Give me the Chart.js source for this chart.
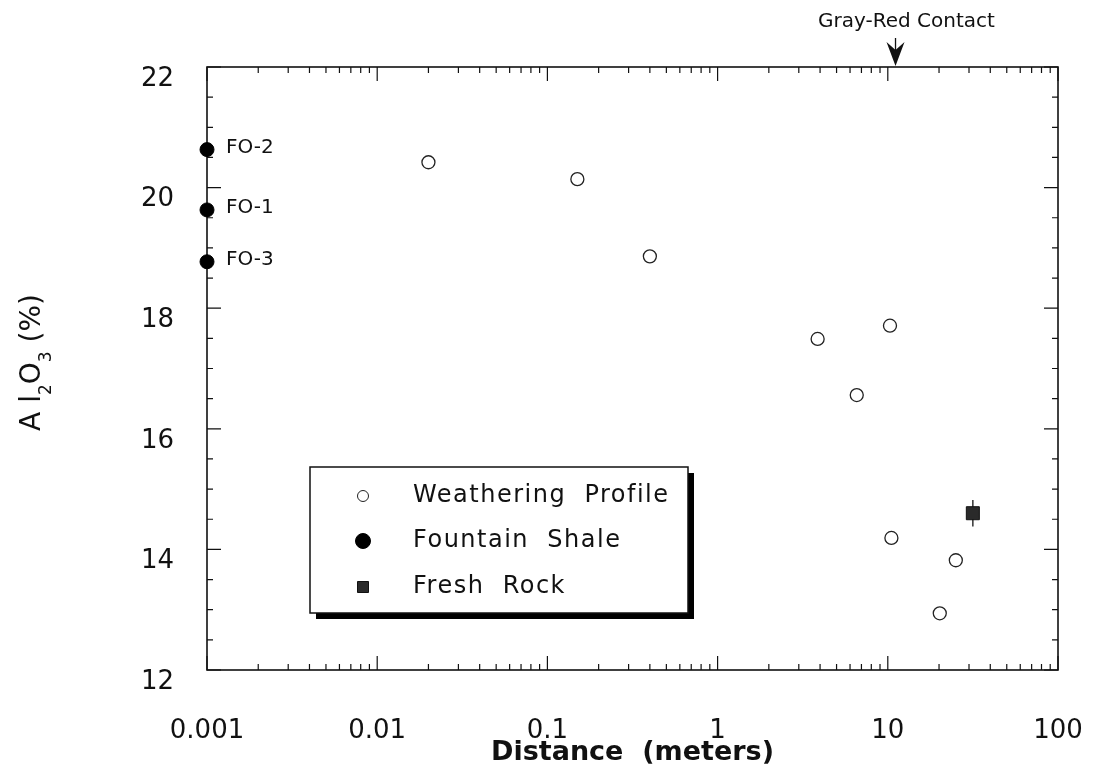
<!DOCTYPE html>
<html>
<head>
<meta charset="utf-8">
<script src="https://cdn.jsdelivr.net/npm/chart.js@4.4.1/dist/chart.umd.min.js"></script>
<style>
  html, body { margin: 0; padding: 0; background: #fff; }
  #chart { display: block; }
</style>
</head>
<body>
<canvas id="chart" width="1096" height="775"></canvas>
<script>
// distance from contact (m) vs Al2O3 (%)
var weatheringDist = [0.020, 0.150, 0.40, 3.87, 10.3, 6.57, 10.5, 25.1, 20.2];
var weatheringAl = [20.42, 20.14, 18.86, 17.49, 17.71, 16.56, 14.19, 13.82, 12.94];
var shaleDist = [0.001, 0.001, 0.001];
var shaleAl = [20.63, 19.63, 18.77];
var shaleLabels = ['FO-2', 'FO-1', 'FO-3'];
var freshDist = [31.6];
var freshAl = [14.60];
var freshErr = [0.22];
var contactDist = 11.1;
var contactLabel = 'Gray-Red Contact';
var xTickValues = [0.001, 0.01, 0.1, 1, 10, 100];
var xTickLabels = ['0.001', '0.01', '0.1', '1', '10', '100'];
var yTickValues = [12, 14, 16, 18, 20, 22];

var INK = '#111';
var FONT = '"DejaVu Sans", sans-serif';

function pts(xs, ys) {
    return xs.map(function(x, i) { return {x: x, y: ys[i]}; });
}

// box frame with inward ticks on all four sides
var frameTicks = {
    id: 'frameTicks',
    beforeDatasetsDraw: function(chart) {
        var ctx = chart.ctx, a = chart.chartArea;
        var xs = chart.scales.x, ys = chart.scales.y;
        ctx.save();
        ctx.strokeStyle = INK;
        ctx.lineWidth = 1.6;
        ctx.strokeRect(a.left, a.top, a.right - a.left, a.bottom - a.top);
        ctx.lineWidth = 1.2;
        ctx.beginPath();
        for (var d = -3; d <= 2; d++) {
            for (var m = 1; m <= 9; m++) {
                var v = m * Math.pow(10, d);
                if (v > 100.0001) break;
                var px = xs.getPixelForValue(v);
                var len = m === 1 ? 14 : 6;
                ctx.moveTo(px, a.bottom); ctx.lineTo(px, a.bottom - len);
                ctx.moveTo(px, a.top); ctx.lineTo(px, a.top + len);
            }
        }
        for (var y = 12; y <= 22; y += 0.5) {
            var py = ys.getPixelForValue(y);
            var l = y % 2 === 0 ? 14 : 6;
            ctx.moveTo(a.left, py); ctx.lineTo(a.left + l, py);
            ctx.moveTo(a.right, py); ctx.lineTo(a.right - l, py);
        }
        ctx.stroke();

        // error bar on the fresh rock sample
        var meta = chart.getDatasetMeta(2);
        ctx.strokeStyle = '#333';
        ctx.lineWidth = 1.5;
        ctx.beginPath();
        meta.data.forEach(function(p, i) {
            ctx.moveTo(p.x, ys.getPixelForValue(freshAl[i] + freshErr[i]));
            ctx.lineTo(p.x, ys.getPixelForValue(freshAl[i] - freshErr[i]));
        });
        ctx.stroke();
        ctx.restore();
    }
};

var annotations = {
    id: 'annotations',
    afterDraw: function(chart) {
        var ctx = chart.ctx, a = chart.chartArea;
        var xs = chart.scales.x;
        ctx.save();
        ctx.fillStyle = INK;

        // sample names next to the shale points
        ctx.font = '20px ' + FONT;
        ctx.textAlign = 'left';
        ctx.textBaseline = 'middle';
        chart.getDatasetMeta(1).data.forEach(function(p, i) {
            ctx.fillText(shaleLabels[i], p.x + 19, p.y - 2);
        });

        // contact marker above the top axis
        var ax = xs.getPixelForValue(contactDist);
        var t = a.top;
        ctx.strokeStyle = INK;
        ctx.lineWidth = 1.3;
        ctx.beginPath();
        ctx.moveTo(ax, t - 29); ctx.lineTo(ax, t - 14);
        ctx.stroke();
        ctx.beginPath();
        ctx.moveTo(ax, t - 1);
        ctx.lineTo(ax - 9, t - 25);
        ctx.lineTo(ax, t - 17);
        ctx.lineTo(ax + 9, t - 25);
        ctx.closePath();
        ctx.fill();
        ctx.font = '20px ' + FONT;
        ctx.textAlign = 'center';
        ctx.fillText(contactLabel, ax + 11, 22);

        // y axis title with subscripts
        var parts = [['A l', 0], ['2', 1], ['O', 0], ['3', 1], [' (%)', 0]];
        var big = '28px ' + FONT, small = '17px ' + FONT;
        var total = 0;
        parts.forEach(function(p) {
            ctx.font = p[1] ? small : big;
            total += ctx.measureText(p[0]).width;
        });
        ctx.translate(40, (a.top + a.bottom) / 2 - 6);
        ctx.rotate(-Math.PI / 2);
        ctx.textAlign = 'left';
        ctx.textBaseline = 'alphabetic';
        var cx = -total / 2;
        parts.forEach(function(p) {
            ctx.font = p[1] ? small : big;
            ctx.fillText(p[0], cx, p[1] ? 11 : 0);
            cx += ctx.measureText(p[0]).width;
        });
        ctx.restore();

        drawLegend(chart);
    }
};

// framed legend with a drop shadow, inside the plot
function drawLegend(chart) {
    var ctx = chart.ctx;
    var bx = 310, by = 467, bw = 378, bh = 146, sh = 6;
    ctx.save();
    ctx.fillStyle = '#000';
    ctx.beginPath();
    ctx.moveTo(bx + sh, by + bh);
    ctx.lineTo(bx + bw, by + bh);
    ctx.lineTo(bx + bw, by + sh);
    ctx.lineTo(bx + bw + sh, by + sh);
    ctx.lineTo(bx + bw + sh, by + bh + sh);
    ctx.lineTo(bx + sh, by + bh + sh);
    ctx.closePath();
    ctx.fill();
    ctx.fillStyle = '#fff';
    ctx.fillRect(bx, by, bw, bh);
    ctx.strokeStyle = INK;
    ctx.lineWidth = 1.5;
    ctx.strokeRect(bx, by, bw, bh);

    var rowY = [496, 541, 587];
    var symR = [5.5, 7.5, 5.5];
    ctx.font = '24px ' + FONT;
    ctx.letterSpacing = '1.5px';
    ctx.textAlign = 'left';
    ctx.textBaseline = 'middle';
    chart.data.datasets.forEach(function(ds, i) {
        var y = rowY[i], x = 363;
        ctx.beginPath();
        if (ds.pointStyle === 'rect') {
            ctx.rect(x - symR[i], y - symR[i], symR[i] * 2, symR[i] * 2);
        } else {
            ctx.arc(x, y, symR[i], 0, Math.PI * 2);
        }
        ctx.fillStyle = ds.backgroundColor;
        ctx.fill();
        ctx.strokeStyle = ds.borderColor;
        ctx.lineWidth = 1;
        ctx.stroke();
        ctx.fillStyle = INK;
        ctx.fillText(ds.label, 413, y);
    });
    ctx.restore();
}

new Chart(document.getElementById('chart'), {
    type: 'scatter',
    data: {
        datasets: [{
            label: 'Weathering  Profile',
            data: pts(weatheringDist, weatheringAl),
            pointStyle: 'circle',
            radius: 6.5,
            backgroundColor: '#fff',
            borderColor: '#222',
            borderWidth: 1.3,
            clip: false
        }, {
            label: 'Fountain  Shale',
            data: pts(shaleDist, shaleAl),
            pointStyle: 'circle',
            radius: 7,
            backgroundColor: '#000',
            borderColor: '#000',
            borderWidth: 1,
            clip: false
        }, {
            label: 'Fresh  Rock',
            data: pts(freshDist, freshAl),
            pointStyle: 'rect',
            radius: 9.2,
            backgroundColor: '#2a2a2a',
            borderColor: '#111',
            borderWidth: 1,
            clip: false
        }]
    },
    options: {
        responsive: false,
        animation: false,
        events: [],
        layout: { padding: { top: 67, right: 38, left: 0, bottom: 0 } },
        plugins: {
            legend: { display: false },
            tooltip: { enabled: false }
        },
        scales: {
            x: {
                type: 'logarithmic',
                min: 0.001,
                max: 100,
                afterBuildTicks: function(s) {
                    s.ticks = xTickValues.map(function(v) { return {value: v, major: true}; });
                },
                afterFit: function(s) {
                    s.height = 105;
                    s.paddingLeft = 0;
                    s.paddingRight = 0;
                },
                grid: { display: false, drawTicks: false },
                border: { display: false },
                ticks: {
                    autoSkip: false,
                    maxRotation: 0,
                    padding: 46,
                    color: INK,
                    font: { family: FONT, size: 26 },
                    callback: function(v, i) { return xTickLabels[i]; }
                },
                title: {
                    display: true,
                    text: 'Distance  (meters)',
                    color: INK,
                    font: { family: FONT, size: 27, weight: 'bold' },
                    padding: { top: 0, bottom: 6 }
                }
            },
            y: {
                type: 'linear',
                min: 12,
                max: 22,
                afterBuildTicks: function(s) {
                    s.ticks = yTickValues.map(function(v) { return {value: v}; });
                },
                afterFit: function(s) {
                    s.width = 207;
                    s.paddingTop = 0;
                    s.paddingBottom = 0;
                },
                grid: { display: false, drawTicks: false },
                border: { display: false },
                ticks: {
                    padding: 33,
                    labelOffset: 12,
                    color: INK,
                    font: { family: FONT, size: 26 }
                }
            }
        }
    },
    plugins: [frameTicks, annotations]
});
</script>
</body>
</html>
